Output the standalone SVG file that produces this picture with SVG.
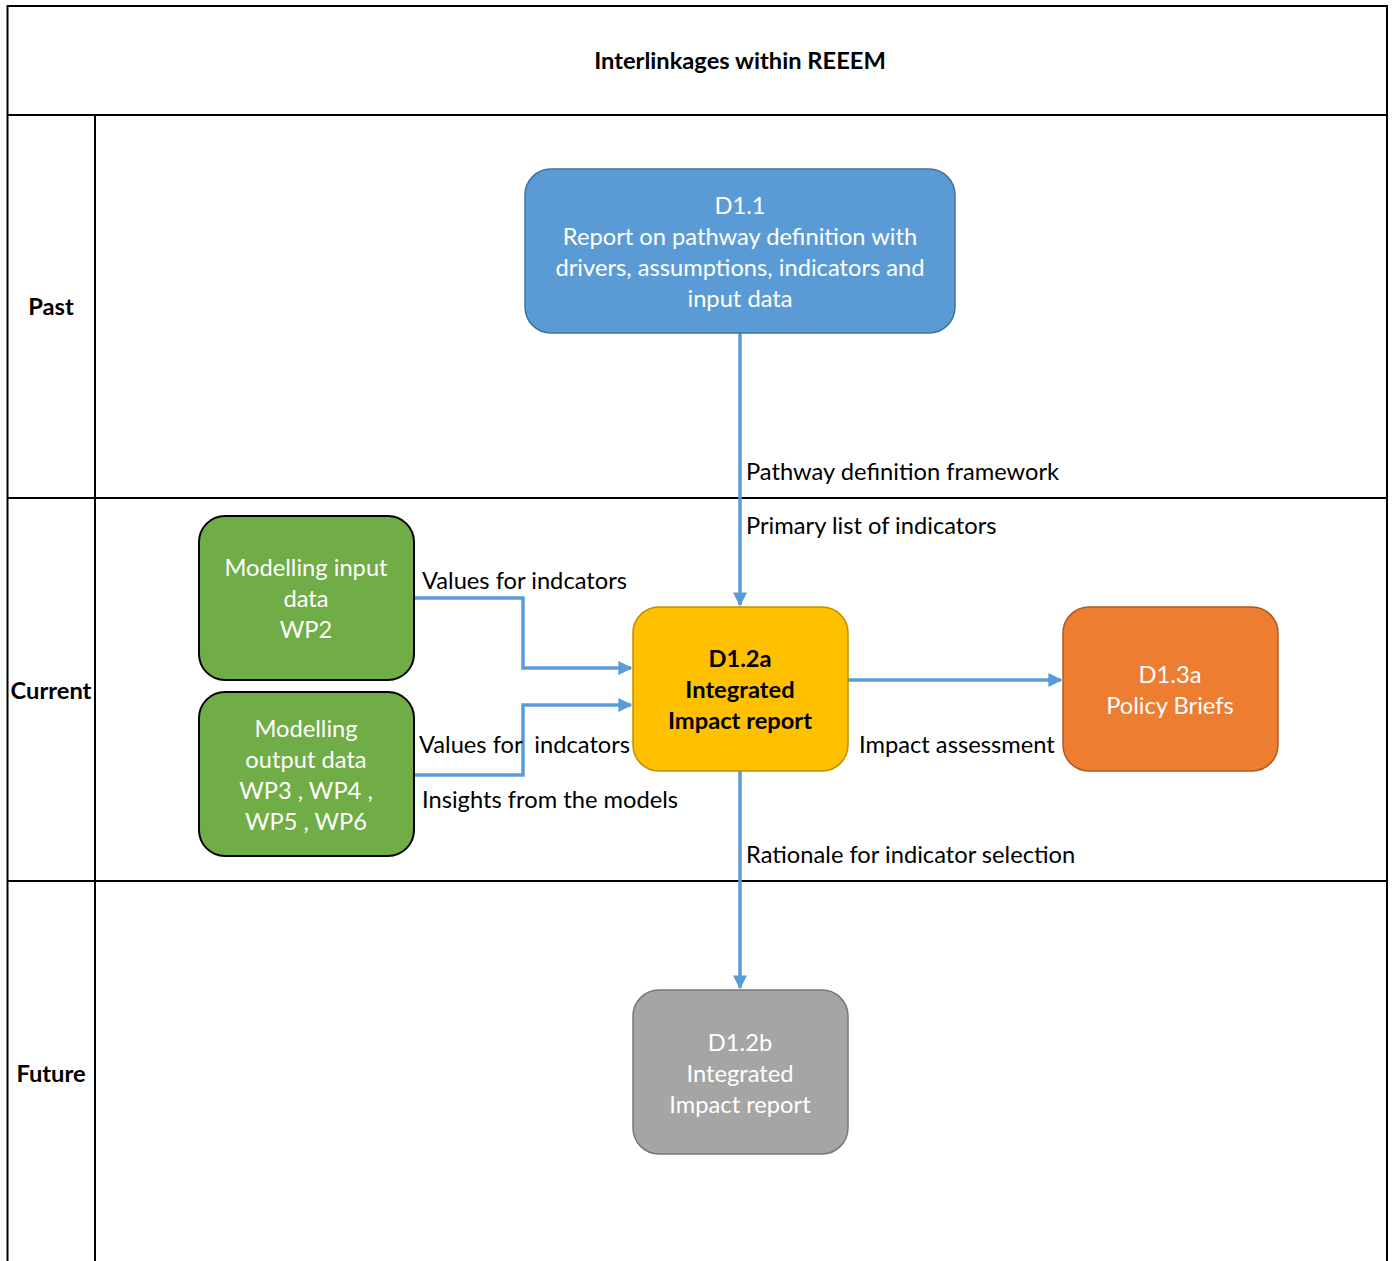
<svg xmlns="http://www.w3.org/2000/svg" width="1393" height="1261" viewBox="0 0 1393 1261">
<defs>
<style>
.t{font-family:Lato,"Open Sans","Liberation Sans",sans-serif;font-size:23.7px;}
.b{font-weight:bold;}
.c{text-anchor:middle;}
.w{fill:#ffffff;}
.k{fill:#000000;}
.frame{fill:none;stroke:#000;stroke-width:2;}
.conn{fill:none;stroke:#5B9BD5;stroke-width:3.5;}
</style>
<marker id="arr" viewBox="0 0 10 10" refX="9" refY="5" markerWidth="4" markerHeight="4" orient="auto" markerUnits="strokeWidth">
<path d="M0,0 L10,5 L0,10 z" fill="#5B9BD5"/>
</marker>
</defs>
<rect width="1393" height="1261" fill="#fff"/>
<g id="frame">
<path class="frame" d="M7.5,1261 V6 H1387 V1261"/>
<line class="frame" x1="7" y1="115" x2="1388" y2="115"/>
<line class="frame" x1="95" y1="115" x2="95" y2="1261"/>
<line class="frame" x1="7" y1="498" x2="1388" y2="498"/>
<line class="frame" x1="7" y1="881" x2="1388" y2="881"/>
<text class="t b c k" x="740" y="69">Interlinkages within REEEM</text>
<text class="t b c k" x="51" y="315">Past</text>
<text class="t b c k" x="51" y="699">Current</text>
<text class="t b c k" x="51" y="1082">Future</text>
</g>
<g id="connectors">
<line class="conn" x1="740" y1="333" x2="740" y2="605" marker-end="url(#arr)"/>
<polyline class="conn" points="414,598 523,598 523,668 631,668" marker-end="url(#arr)"/>
<polyline class="conn" points="414,775 523,775 523,705 631,705" marker-end="url(#arr)"/>
<line class="conn" x1="848" y1="680" x2="1061" y2="680" marker-end="url(#arr)"/>
<line class="conn" x1="740" y1="771" x2="740" y2="988" marker-end="url(#arr)"/>
<text class="t k" x="746" y="480">Pathway definition framework</text>
<text class="t k" x="746" y="534">Primary list of indicators</text>
<text class="t k" x="422" y="589">Values for indcators</text>
<text class="t k" x="419" y="753" xml:space="preserve">Values for  indcators</text>
<text class="t k" x="422" y="808">Insights from the models</text>
<text class="t k" x="859" y="753">Impact assessment</text>
<text class="t k" x="746" y="863">Rationale for indicator selection</text>
</g>
<g id="d11">
<rect x="525" y="169" width="430" height="164" rx="26" fill="#5B9BD5" stroke="#41719C" stroke-width="1.5"/>
<text class="t c w" x="740" y="214">D1.1</text>
<text class="t c w" x="740" y="245">Report on pathway definition with</text>
<text class="t c w" x="740" y="276">drivers, assumptions, indicators and</text>
<text class="t c w" x="740" y="307">input data</text>
</g>
<g id="modelling-input">
<rect x="199" y="516" width="215" height="164" rx="26" fill="#70AD47" stroke="#000" stroke-width="2"/>
<text class="t c w" x="306" y="576">Modelling input</text>
<text class="t c w" x="306" y="607">data</text>
<text class="t c w" x="306" y="638">WP2</text>
</g>
<g id="modelling-output">
<rect x="199" y="692" width="215" height="164" rx="26" fill="#70AD47" stroke="#000" stroke-width="2"/>
<text class="t c w" x="306" y="737">Modelling</text>
<text class="t c w" x="306" y="768">output data</text>
<text class="t c w" x="306" y="799">WP3 , WP4 ,</text>
<text class="t c w" x="306" y="830">WP5 , WP6</text>
</g>
<g id="d12a">
<rect x="633" y="607" width="215" height="164" rx="26" fill="#FFC000" stroke="#BF9000" stroke-width="1.5"/>
<text class="t b c k" x="740" y="667">D1.2a</text>
<text class="t b c k" x="740" y="698">Integrated</text>
<text class="t b c k" x="740" y="729">Impact report</text>
</g>
<g id="d13a">
<rect x="1063" y="607" width="215" height="164" rx="26" fill="#ED7D31" stroke="#AE5A21" stroke-width="1.5"/>
<text class="t c w" x="1170" y="683">D1.3a</text>
<text class="t c w" x="1170" y="714">Policy Briefs</text>
</g>
<g id="d12b">
<rect x="633" y="990" width="215" height="164" rx="26" fill="#A5A5A5" stroke="#787878" stroke-width="1.5"/>
<text class="t c w" x="740" y="1051">D1.2b</text>
<text class="t c w" x="740" y="1082">Integrated</text>
<text class="t c w" x="740" y="1113">Impact report</text>
</g>
</svg>
